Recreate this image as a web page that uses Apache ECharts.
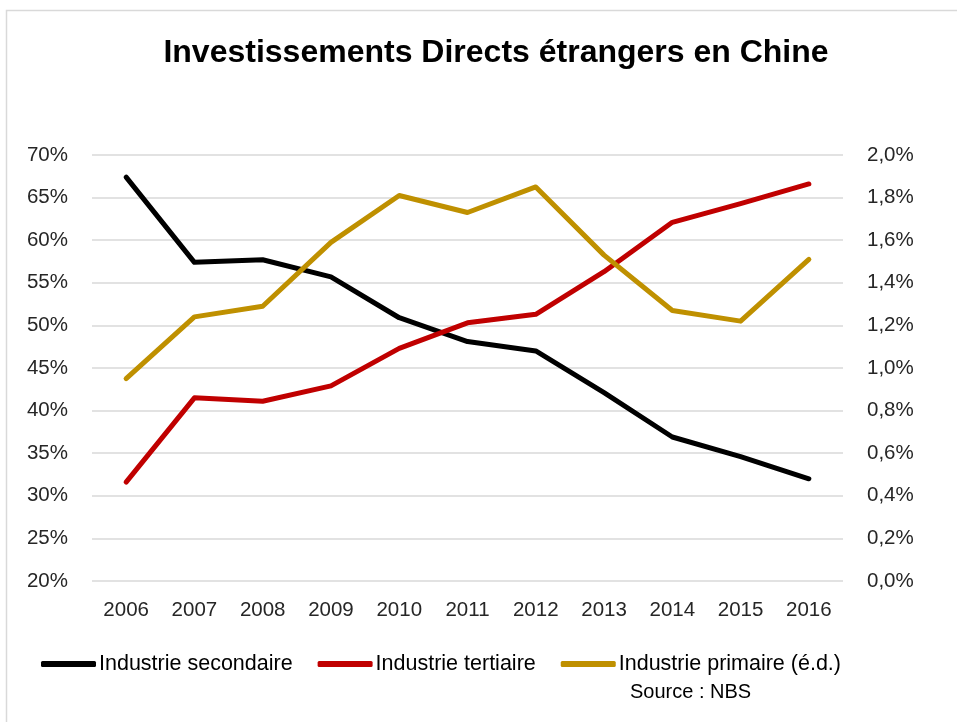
<!DOCTYPE html>
<html lang="fr">
<head>
    <meta charset="UTF-8">
    <title>Investissements Directs étrangers en Chine</title>
    <script src="https://cdn.jsdelivr.net/npm/echarts@6/dist/echarts.min.js"></script>
    <style>
        html, body { margin: 0; padding: 0; background: #fff; }
        #chart1 { width: 957px; height: 722px; }
    </style>
</head>
<body>
<div id="chart1"></div>
<script>
    var years = ['2006', '2007', '2008', '2009', '2010', '2011', '2012', '2013', '2014', '2015', '2016'];
    var secondaire = [67.4, 57.4, 57.7, 55.7, 50.9, 48.1, 47.0, 42.1, 36.9, 34.6, 32.0];
    var tertiaire = [31.6, 41.5, 41.1, 42.9, 47.3, 50.3, 51.3, 56.3, 62.1, 64.3, 66.6];
    var primaire = [0.95, 1.24, 1.29, 1.59, 1.81, 1.73, 1.85, 1.53, 1.27, 1.22, 1.51];

    var font = '"Liberation Sans", Arial, sans-serif';
    var ctx1 = echarts.init(document.getElementById('chart1'));

    ctx1.setOption({
        backgroundColor: '#fff',
        animation: false,
        textStyle: { fontFamily: font },
        title: {
            text: 'Investissements Directs étrangers en Chine',
            left: 491,
            textAlign: 'center',
            top: 32,
            textStyle: { fontSize: 32, fontWeight: 'bold', color: '#000', fontFamily: font }
        },
        graphic: [
            {
                type: 'rect',
                shape: { x: 6.5, y: 10.5, width: 1000, height: 800 },
                style: { fill: 'none', stroke: '#d9d9d9', lineWidth: 1.5 },
                silent: true
            },
            {
                type: 'text',
                left: 630,
                top: 682,
                style: { text: 'Source : NBS', fontSize: 20, fill: '#000', fontFamily: font }
            }
        ],
        legend: {
            left: 36,
            top: 648,
            itemWidth: 55,
            itemHeight: 6,
            itemGap: 25,
            icon: 'roundRect',
            textStyle: { fontSize: 21.5, color: '#000', padding: [0, 0, 0, -2] },
            data: ['Industrie secondaire', 'Industrie tertiaire', 'Industrie primaire (é.d.)']
        },
        grid: { left: 92, right: 114, top: 155, bottom: 141 },
        xAxis: {
            type: 'category',
            data: years,
            boundaryGap: true,
            axisLine: { show: false },
            axisTick: { show: false },
            axisLabel: { fontSize: 20.5, color: '#262626', margin: 19 }
        },
        yAxis: [
            {
                type: 'value',
                min: 20, max: 70, interval: 5,
                axisLine: { show: false },
                axisTick: { show: false },
                splitLine: { lineStyle: { color: '#d9d9d9', width: 1.5 } },
                axisLabel: { fontSize: 20.5, color: '#262626', margin: 24, formatter: '{value}%' }
            },
            {
                type: 'value',
                min: 0, max: 2, interval: 0.2,
                axisLine: { show: false },
                axisTick: { show: false },
                splitLine: { show: false },
                axisLabel: {
                    fontSize: 20.5, color: '#262626', margin: 24,
                    formatter: function (v) { return v.toFixed(1).replace('.', ',') + '%'; }
                }
            }
        ],
        series: [
            {
                name: 'Industrie secondaire', type: 'line', data: secondaire,
                symbol: 'none', color: '#000000',
                lineStyle: { width: 5, cap: 'round', join: 'round' }
            },
            {
                name: 'Industrie tertiaire', type: 'line', data: tertiaire,
                symbol: 'none', color: '#c00000',
                lineStyle: { width: 5, cap: 'round', join: 'round' }
            },
            {
                name: 'Industrie primaire (é.d.)', type: 'line', data: primaire, yAxisIndex: 1,
                symbol: 'none', color: '#bf9000',
                lineStyle: { width: 5, cap: 'round', join: 'round' }
            }
        ]
    });
</script>
</body>
</html>
